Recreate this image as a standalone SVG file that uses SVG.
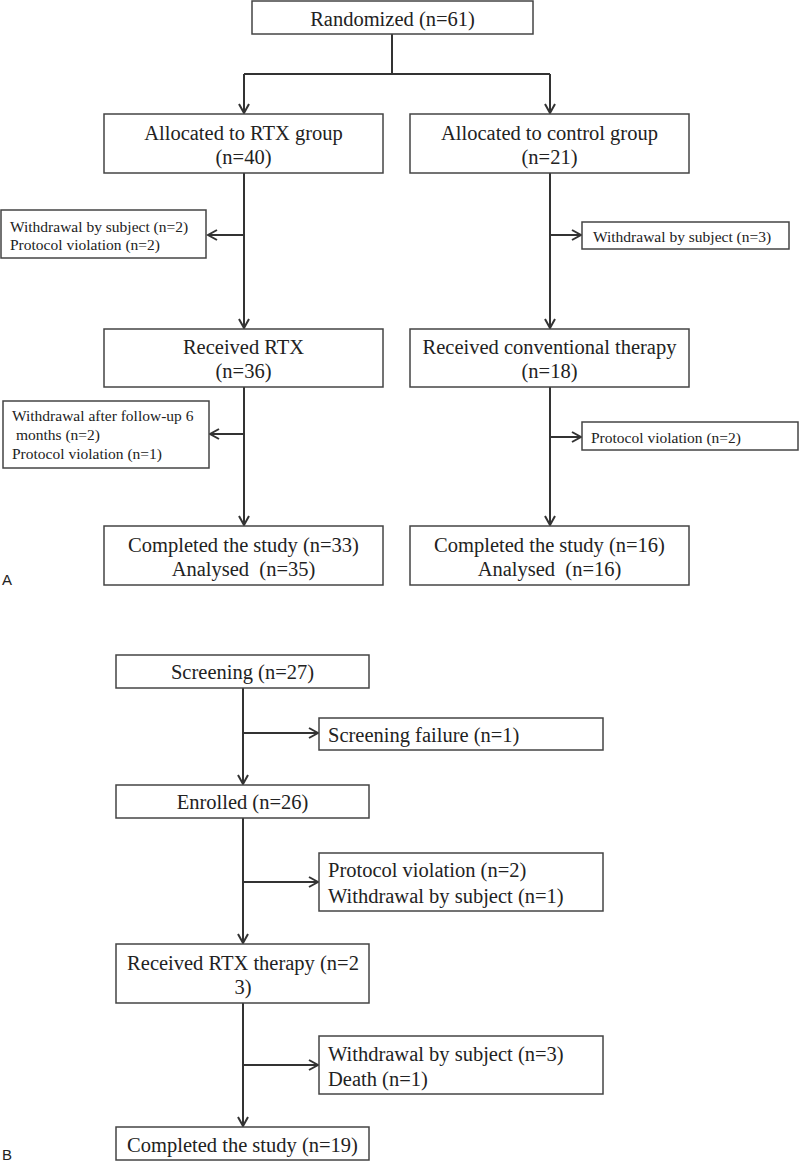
<svg xmlns="http://www.w3.org/2000/svg" width="800" height="1161" viewBox="0 0 800 1161">
<style>
.box{fill:#fff;stroke:#444;stroke-width:1.5}
.t{font-family:"Liberation Serif","Times New Roman",serif;font-size:20.5px;fill:#222}
.s{font-family:"Liberation Serif","Times New Roman",serif;font-size:15.5px;fill:#222}
.c{text-anchor:middle}
.lbl{font-family:"Liberation Sans",Arial,sans-serif;font-size:15px;fill:#222}
.ln{fill:none;stroke:#333;stroke-width:2}
</style>
<defs>
<marker id="ah" markerUnits="userSpaceOnUse" markerWidth="12" markerHeight="12" viewBox="0 0 12 12" refX="10" refY="6" orient="auto">
<path d="M1,1 L10,6 L1,11" fill="none" stroke="#333" stroke-width="2"/>
</marker>
</defs>
<rect width="800" height="1161" fill="#fff"/>
<g id="connectors">
<path class="ln" d="M392,34 V74 M244,74 H550"/>
<path class="ln" d="M244,74 V113" marker-end="url(#ah)"/>
<path class="ln" d="M550,74 V113" marker-end="url(#ah)"/>
<path class="ln" d="M244,173 V328" marker-end="url(#ah)"/>
<path class="ln" d="M244,235 H208" marker-end="url(#ah)"/>
<path class="ln" d="M550,173 V328" marker-end="url(#ah)"/>
<path class="ln" d="M550,235 H581" marker-end="url(#ah)"/>
<path class="ln" d="M244,387 V525" marker-end="url(#ah)"/>
<path class="ln" d="M244,434 H210" marker-end="url(#ah)"/>
<path class="ln" d="M550,387 V525" marker-end="url(#ah)"/>
<path class="ln" d="M550,437 H581" marker-end="url(#ah)"/>
<path class="ln" d="M243,688 V784" marker-end="url(#ah)"/>
<path class="ln" d="M243,733 H318" marker-end="url(#ah)"/>
<path class="ln" d="M243,818 V943" marker-end="url(#ah)"/>
<path class="ln" d="M243,882 H318" marker-end="url(#ah)"/>
<path class="ln" d="M243,1003 V1126" marker-end="url(#ah)"/>
<path class="ln" d="M243,1065 H318" marker-end="url(#ah)"/>
</g>
<g id="randomized"><rect class="box" x="252" y="1" width="281" height="33"/><text class="t c" x="392.5" y="26">Randomized (n=61)</text></g>
<g id="alloc-rtx"><rect class="box" x="104" y="114" width="279" height="59"/><text class="t c" x="243.5" y="140">Allocated to RTX group</text><text class="t c" x="243.5" y="164">(n=40)</text></g>
<g id="alloc-ctrl"><rect class="box" x="410" y="114" width="279" height="59"/><text class="t c" x="549.5" y="140">Allocated to control group</text><text class="t c" x="549.5" y="164">(n=21)</text></g>
<g id="excl-rtx1"><rect class="box" x="1" y="210" width="205" height="48"/><text class="s" x="10" y="232">Withdrawal by subject (n=2)</text><text class="s" x="10" y="250">Protocol violation (n=2)</text></g>
<g id="excl-ctrl1"><rect class="box" x="582" y="222" width="207" height="27"/><text class="s" x="593" y="242">Withdrawal by subject (n=3)</text></g>
<g id="recv-rtx"><rect class="box" x="104" y="329" width="279" height="58"/><text class="t c" x="243.5" y="354">Received RTX</text><text class="t c" x="243.5" y="378">(n=36)</text></g>
<g id="recv-ctrl"><rect class="box" x="410" y="329" width="279" height="58"/><text class="t c" x="549.5" y="354">Received conventional therapy</text><text class="t c" x="549.5" y="378">(n=18)</text></g>
<g id="excl-rtx2"><rect class="box" x="3" y="401" width="206" height="67"/><text class="s" x="12" y="421">Withdrawal after follow-up 6</text><text class="s" x="12" y="440" xml:space="preserve"> months (n=2)</text><text class="s" x="12" y="459">Protocol violation (n=1)</text></g>
<g id="excl-ctrl2"><rect class="box" x="582" y="422" width="216" height="28"/><text class="s" x="591" y="443">Protocol violation (n=2)</text></g>
<g id="done-rtx"><rect class="box" x="104" y="526" width="279" height="59"/><text class="t c" x="243.5" y="552">Completed the study (n=33)</text><text class="t c" x="243.5" y="576" xml:space="preserve">Analysed  (n=35)</text></g>
<g id="done-ctrl"><rect class="box" x="410" y="526" width="279" height="59"/><text class="t c" x="549.5" y="552">Completed the study (n=16)</text><text class="t c" x="549.5" y="576" xml:space="preserve">Analysed  (n=16)</text></g>
<text class="lbl" x="2" y="585">A</text>
<g id="screening"><rect class="box" x="116" y="655" width="253" height="33"/><text class="t c" x="242.5" y="679">Screening (n=27)</text></g>
<g id="screen-fail"><rect class="box" x="319" y="718" width="284" height="32"/><text class="t" x="328" y="742">Screening failure (n=1)</text></g>
<g id="enrolled"><rect class="box" x="116" y="785" width="253" height="33"/><text class="t c" x="242.5" y="809">Enrolled (n=26)</text></g>
<g id="excl-b1"><rect class="box" x="319" y="853" width="284" height="58"/><text class="t" x="328" y="877">Protocol violation (n=2)</text><text class="t" x="328" y="903">Withdrawal by subject (n=1)</text></g>
<g id="recv-b"><rect class="box" x="116" y="944" width="253" height="59"/><text class="t c" x="243" y="970">Received RTX therapy (n=2</text><text class="t c" x="243" y="994">3)</text></g>
<g id="excl-b2"><rect class="box" x="319" y="1036" width="284" height="58"/><text class="t" x="328" y="1061">Withdrawal by subject (n=3)</text><text class="t" x="328" y="1086">Death (n=1)</text></g>
<g id="done-b"><rect class="box" x="116" y="1127" width="253" height="33"/><text class="t c" x="242.5" y="1152">Completed the study (n=19)</text></g>
<text class="lbl" x="2" y="1160">B</text>
</svg>
